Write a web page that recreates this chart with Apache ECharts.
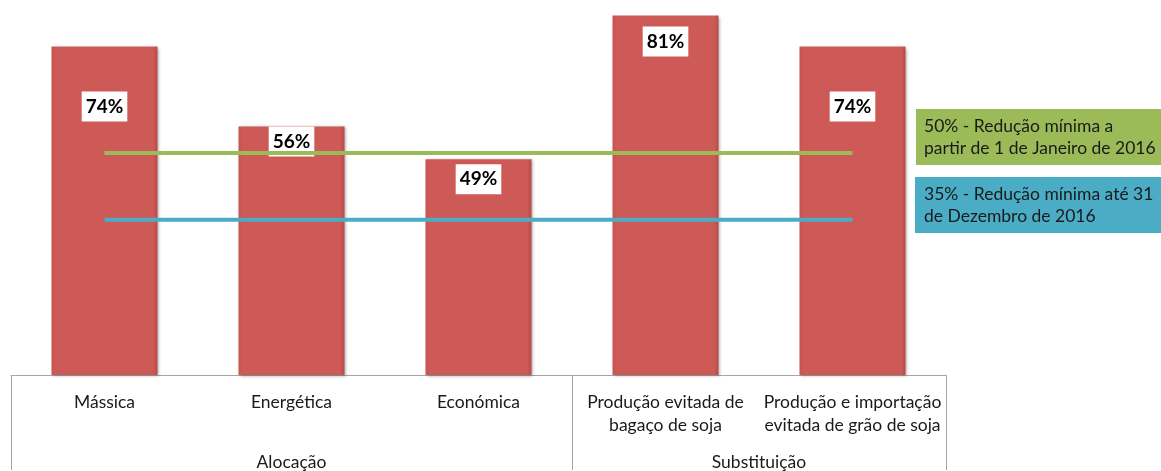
<!DOCTYPE html>
<html>
<head>
<meta charset="utf-8">
<script src="https://cdn.jsdelivr.net/npm/echarts@6/dist/echarts.min.js"></script>
<style>
  html, body { margin: 0; padding: 0; background: #fff; }
  #chart { width: 1161px; height: 471px; }
</style>
</head>
<body>
<div id="chart"></div>
<script>
// categories (first level) and groups (second level)
const categories = ['Mássica', 'Energética', 'Económica', 'Produção evitada de\nbagaço de soja', 'Produção e importação\nevitada de grão de soja']
const groups = ['Alocação', 'Substituição']
// reduction values, %
const reduction = [74, 56, 48.6, 81, 74]
// reference thresholds, %
const minFrom2016 = [50, 50, 50, 50, 50]
const minUntil2016 = [35, 35, 35, 35, 35]
const legendTexts = [
    '50% - Redução mínima a\npartir de 1 de Janeiro de 2016',
    '35% - Redução mínima até 31\nde Dezembro de 2016'
]

const chart = echarts.init(document.getElementById('chart'))
const font = 'Lato, "Open Sans", sans-serif'
// distance of each value box below the bar top
const labelGap = [45, 0, 5, 11, 45]

const option = {
    animation: false,
    textStyle: { fontFamily: font },
    title: [
        {
            text: legendTexts[0],
            left: 916, top: 109,
            backgroundColor: '#9bbb59',
            padding: [6, 40, 6, 8],
            textStyle: { fontSize: 17.5, fontWeight: 'normal', color: '#1a1a1a', lineHeight: 22, fontFamily: font }
        },
        {
            text: legendTexts[1],
            left: 915, top: 177,
            backgroundColor: '#4bacc6',
            padding: [6, 40, 6, 9],
            textStyle: { fontSize: 17.5, fontWeight: 'normal', color: '#1a1a1a', lineHeight: 22, fontFamily: font }
        }
    ],
    grid: { left: 11, right: 215, top: 0, bottom: 95 },
    xAxis: [
        {
            type: 'category',
            data: categories,
            boundaryGap: true,
            axisLine: { show: true, lineStyle: { color: '#a6a6a6', width: 1 } },
            axisTick: { show: false },
            axisLabel: {
                interval: 0,
                margin: 16,
                fontSize: 17.5,
                lineHeight: 23,
                color: '#1a1a1a',
                fontFamily: font,
                verticalAlign: 'top'
            }
        },
        {
            type: 'value',
            position: 'bottom',
            min: 0,
            max: 5,
            axisLine: { show: false },
            splitLine: { show: false },
            axisTick: {
                show: true,
                customValues: [0, 3, 5],
                length: 95,
                lineStyle: { color: '#a6a6a6', width: 1 }
            },
            axisLabel: {
                customValues: [1.5, 4],
                formatter: v => (v < 3 ? groups[0] : groups[1]),
                margin: 78,
                fontSize: 17.5,
                color: '#1a1a1a',
                fontFamily: font
            }
        }
    ],
    yAxis: {
        type: 'value',
        min: 0,
        max: 84.5,
        show: false,
        splitLine: { show: false }
    },
    series: [
        {
            name: 'Redução',
            type: 'bar',
            xAxisIndex: 0,
            barWidth: 106,
            data: reduction.map((v, i) => ({ value: v, label: { distance: labelGap[i] } })),
            itemStyle: {
                color: {
                    type: 'linear', x: 0, y: 0, x2: 1, y2: 0,
                    colorStops: [
                        { offset: 0, color: '#c9524e' },
                        { offset: 0.04, color: '#cd5a56' },
                        { offset: 0.96, color: '#cd5a56' },
                        { offset: 1, color: '#b94a46' }
                    ]
                },
                shadowColor: 'rgba(0,0,0,0.35)',
                shadowBlur: 3,
                shadowOffsetX: 1,
                shadowOffsetY: 1
            },
            label: {
                show: true,
                position: 'insideTop',
                formatter: p => Math.round(p.value) + '%',
                backgroundColor: '#fff',
                padding: [5, 4, 5, 4],
                fontSize: 19,
                lineHeight: 20,
                fontWeight: 'bold',
                color: '#000',
                fontFamily: font
            }
        },
        {
            name: '50%',
            type: 'line',
            xAxisIndex: 0,
            data: minFrom2016,
            symbol: 'none',
            lineStyle: { color: '#9bbb59', width: 4 },
            z: 3
        },
        {
            name: '35%',
            type: 'line',
            xAxisIndex: 0,
            data: minUntil2016,
            symbol: 'none',
            lineStyle: { color: '#4bacc6', width: 4 },
            z: 3
        }
    ]
}
chart.setOption(option)
</script>
</body>
</html>
